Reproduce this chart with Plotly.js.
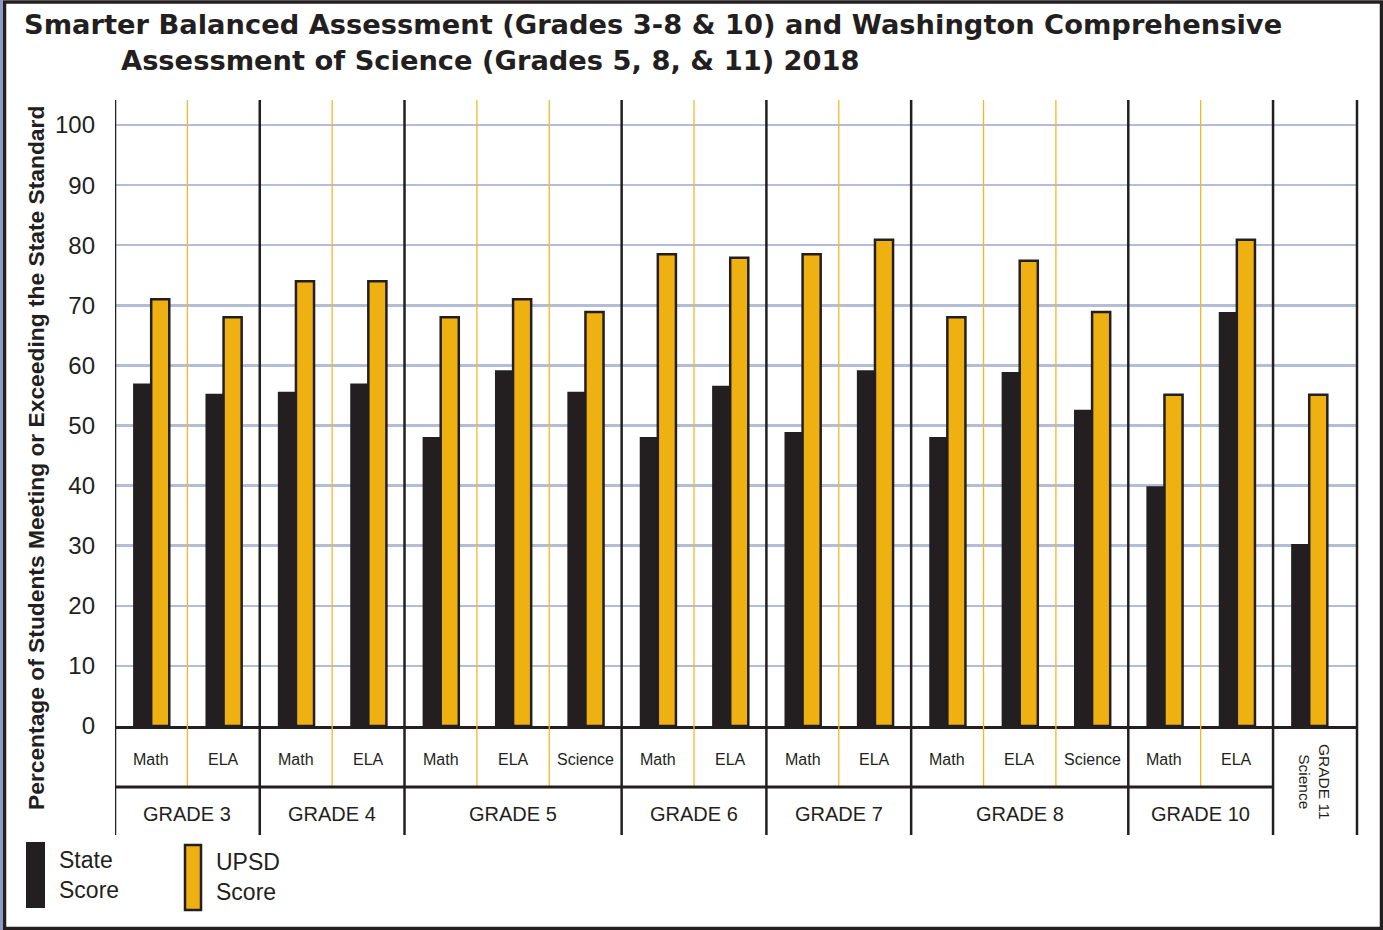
<!DOCTYPE html>
<html><head><meta charset="utf-8">
<script src="https://cdn.plot.ly/plotly-3.0.1.min.js"></script>
<style>html,body{margin:0;padding:0;background:#fff}#chart{width:1383px;height:930px}</style>
</head><body><div id="chart"></div>
<script>
// ---- data ----
const grades = ['GRADE 3','GRADE 3','GRADE 4','GRADE 4','GRADE 5','GRADE 5','GRADE 5','GRADE 6','GRADE 6','GRADE 7','GRADE 7','GRADE 8','GRADE 8','GRADE 8','GRADE 10','GRADE 10','GRADE 11'];
const subjects = ['Math','ELA','Math','ELA','Math','ELA','Science','Math','ELA','Math','ELA','Math','ELA','Science','Math','ELA','Science'];
const stateScore = [57, 55.3, 55.6, 57, 48.1, 59.2, 55.6, 48.1, 56.6, 48.9, 59.2, 48.1, 58.9, 52.6, 39.9, 68.9, 30.3];
const upsdScore  = [71, 68, 74, 74, 68, 71, 68.9, 78.5, 77.9, 78.5, 80.9, 68, 77.4, 68.9, 55.1, 80.9, 55.1];
const yTicks = [0, 10, 20, 30, 40, 50, 60, 70, 80, 90, 100];
const seriesNames = ['State<br>Score', 'UPSD<br>Score'];
const titleLines = ['Smarter Balanced Assessment (Grades 3-8 & 10) and Washington Comprehensive',
                    'Assessment of Science (Grades 5, 8, & 11) 2018'];
const yTitle = 'Percentage of Students Meeting or Exceeding the State Standard';

// ---- layout helpers ----
const W = 1383, H = 930, L = 115, R = 1357, T = 100, B = 726;
const px = x => (x - L) / (R - L);
const py = y => (B - y) / (B - T);
const INK = '#231f20', GOLD = '#efb112', YLINE = '#f3b829', GRID = '#b4bdd7';
const SANS = 'Liberation Sans, Arial, sans-serif';
const HEAVY = 'DejaVu Sans, Liberation Sans, Arial, sans-serif';
const cats = grades.map((g, i) => g + ' ' + subjects[i]);
const xMax = 16.66;

const shapes = [];
const annotations = [];

// group boundaries
const groups = [];
grades.forEach((g, i) => {
  if (i === 0 || g !== grades[i - 1]) groups.push({name: g, first: i, last: i});
  else groups[groups.length - 1].last = i;
});
groups.forEach((grp, gi) => {
  const left = grp.first - 0.5;
  const right = gi === groups.length - 1 ? xMax : grp.last + 0.5;
  shapes.push({type: 'line', xref: 'x', yref: 'paper', x0: left, x1: left, y0: 1, y1: py(835),
               line: {color: INK, width: 2.5}, layer: 'above'});
  for (let k = grp.first; k < grp.last; k++) {
    shapes.push({type: 'line', xref: 'x', yref: 'paper', x0: k + 0.5, x1: k + 0.5, y0: 1, y1: py(787),
                 line: {color: YLINE, width: 1.3}, layer: 'above'});
  }
  if (grp.first === grp.last && gi === groups.length - 1) {
    annotations.push({xref: 'x', yref: 'paper', x: (left + right) / 2, y: py(782),
      text: grp.name + '<br>' + subjects[grp.first], textangle: 90, showarrow: false,
      font: {family: SANS, size: 15.5, color: INK}, xanchor: 'center', yanchor: 'middle'});
  } else {
    annotations.push({xref: 'x', yref: 'paper', x: (left + right) / 2, y: py(814), text: grp.name, showarrow: false,
      font: {family: SANS, size: 20, color: INK}, xanchor: 'center', yanchor: 'middle'});
    for (let k = grp.first; k <= grp.last; k++) {
      annotations.push({xref: 'x', yref: 'paper', x: k, y: py(759), text: subjects[k], showarrow: false,
        font: {family: SANS, size: 16, color: INK}, xanchor: 'center', yanchor: 'middle'});
    }
  }
});
shapes.push({type: 'line', xref: 'paper', yref: 'paper', x0: 1, x1: 1, y0: 1, y1: py(835),
             line: {color: INK, width: 2.5}, layer: 'above'});
shapes.push({type: 'line', xref: 'x', yref: 'paper', x0: -0.5, x1: groups[groups.length - 1].first - 0.5,
             y0: py(787), y1: py(787), line: {color: INK, width: 3}, layer: 'above'});

// outer frame
shapes.push({type: 'rect', xref: 'paper', yref: 'paper', x0: px(4.5), x1: px(1381.5), y0: py(2), y1: py(928.5),
             line: {color: INK, width: 3.5}, layer: 'above'});
shapes.push({type: 'rect', xref: 'paper', yref: 'paper', x0: px(0), x1: px(3), y0: py(0), y1: py(930),
             fillcolor: '#8e9bc6', line: {width: 0}, layer: 'above'});

// legend swatches
shapes.push({type: 'rect', xref: 'paper', yref: 'paper', x0: px(26), x1: px(45), y0: py(842), y1: py(908),
             fillcolor: INK, line: {width: 0}});
shapes.push({type: 'rect', xref: 'paper', yref: 'paper', x0: px(185), x1: px(201), y0: py(845), y1: py(910),
             fillcolor: GOLD, line: {color: INK, width: 2.5}});
annotations.push({xref: 'paper', yref: 'paper', x: px(57), y: py(875), text: seriesNames[0], align: 'left',
  showarrow: false, xanchor: 'left', yanchor: 'middle', font: {family: SANS, size: 23, color: INK}});
annotations.push({xref: 'paper', yref: 'paper', x: px(214), y: py(877), text: seriesNames[1], align: 'left',
  showarrow: false, xanchor: 'left', yanchor: 'middle', font: {family: SANS, size: 23, color: INK}});

// titles
annotations.push({xref: 'paper', yref: 'paper', x: px(22), y: py(25), text: '<b>' + titleLines[0] + '</b>',
  showarrow: false, xanchor: 'left', yanchor: 'middle', font: {family: HEAVY, size: 27.3, color: INK}});
annotations.push({xref: 'paper', yref: 'paper', x: px(119), y: py(60), text: '<b>' + titleLines[1] + '</b>',
  showarrow: false, xanchor: 'left', yanchor: 'middle', font: {family: HEAVY, size: 27.3, color: INK}});
annotations.push({xref: 'paper', yref: 'paper', x: px(36), y: py(458), text: '<b>' + yTitle + '</b>', textangle: -90,
  showarrow: false, xanchor: 'center', yanchor: 'middle', font: {family: SANS, size: 22.8, color: INK}});

const traces = [
  {type: 'bar', name: 'State Score', x: cats, y: stateScore, marker: {color: INK, line: {width: 0}}},
  {type: 'bar', name: 'UPSD Score', x: cats, y: upsdScore, marker: {color: GOLD, line: {color: INK, width: 2.5}}}
];

const layout = {
  width: W, height: H,
  margin: {l: L, r: W - R, t: T, b: H - B, pad: 0},
  paper_bgcolor: '#ffffff', plot_bgcolor: '#ffffff',
  showlegend: false,
  barmode: 'group', bargap: 0.5, bargroupgap: 0,
  xaxis: {type: 'category', range: [-0.5, xMax], showticklabels: false, ticks: '', showgrid: false,
          showline: true, linecolor: INK, linewidth: 3, zeroline: false, fixedrange: true},
  yaxis: {range: [0, 104.16], tickvals: yTicks, ticktext: yTicks.map(String), ticks: '', showgrid: true,
          gridcolor: GRID, gridwidth: 2.5, zeroline: false, showline: false, ticklabelstandoff: 19,
          tickfont: {family: SANS, size: 24, color: INK},
          fixedrange: true},
  shapes: shapes,
  annotations: annotations
};

Plotly.newPlot('chart', traces, layout, {displayModeBar: false, staticPlot: true});
</script>
</body></html>
